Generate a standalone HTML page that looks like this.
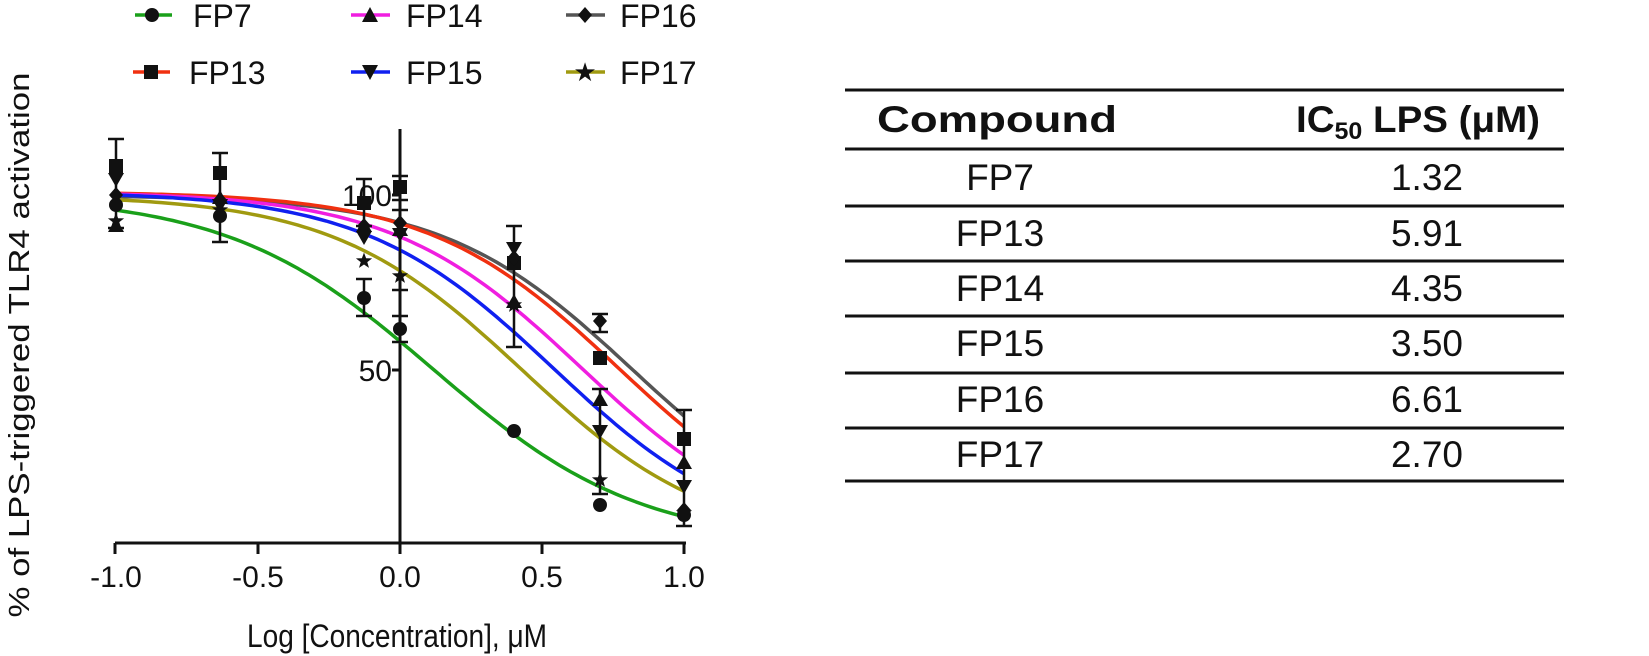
<!DOCTYPE html>
<html><head><meta charset="utf-8"><style>
body{margin:0;background:#fff;}
svg{display:block;font-family:"Liberation Sans",sans-serif;}
</style></head><body>
<svg id="s" width="1649" height="656" viewBox="0 0 1649 656" xmlns="http://www.w3.org/2000/svg">
<!-- legend -->
<g font-size="32" fill="#111">
<line x1="135" y1="15" x2="172" y2="15" stroke="#1aa01a" stroke-width="3.5"/><circle cx="152" cy="15" r="7"/><text x="193" y="27">FP7</text>
<line x1="351" y1="15" x2="390" y2="15" stroke="#f01ee0" stroke-width="3.5"/><polygon points="370,7 378,22 362,22"/><text x="406" y="27">FP14</text>
<line x1="566" y1="15" x2="605" y2="15" stroke="#555" stroke-width="3.5"/><polygon points="585,7 592,15 585,23 578,15"/><text x="620" y="27">FP16</text>
<line x1="133" y1="72" x2="170" y2="72" stroke="#f03010" stroke-width="3.5"/><rect x="144" y="65" width="14" height="14"/><text x="189" y="84">FP13</text>
<line x1="351" y1="72" x2="390" y2="72" stroke="#1020f0" stroke-width="3.5"/><polygon points="362,65 378,65 370,80"/><text x="406" y="84">FP15</text>
<line x1="566" y1="72" x2="605" y2="72" stroke="#a09a10" stroke-width="3.5"/><text x="585" y="81" text-anchor="middle" font-size="26">★</text><text x="620" y="84">FP17</text>
</g>
<!-- axes -->
<g stroke="#111" stroke-width="3" fill="none">
<line x1="400" y1="129" x2="400" y2="543"/>
<line x1="115" y1="543" x2="686" y2="543"/>
<line x1="115" y1="543" x2="115" y2="554"/><line x1="258" y1="543" x2="258" y2="554"/><line x1="400" y1="543" x2="400" y2="554"/><line x1="542" y1="543" x2="542" y2="554"/><line x1="684" y1="543" x2="684" y2="554"/>
<line x1="392" y1="195" x2="400" y2="195"/><line x1="392" y1="370" x2="400" y2="370"/>
</g>
<g font-size="30" fill="#111" text-anchor="middle">
<text x="116" y="587">-1.0</text><text x="258" y="587">-0.5</text><text x="400" y="587">0.0</text><text x="542" y="587">0.5</text><text x="684" y="587">1.0</text>
<text x="392" y="206" text-anchor="end">100</text><text x="392" y="381" text-anchor="end">50</text>
<text x="397" y="647" font-size="32" textLength="300" lengthAdjust="spacingAndGlyphs">Log [Concentration], μM</text>
<text transform="translate(29,345) rotate(-90)" font-size="29" textLength="545" lengthAdjust="spacingAndGlyphs">% of LPS-triggered TLR4 activation</text>
</g>
<g id="curves" fill="none" stroke-width="3.5"></g>
<g id="bars" stroke="#111" stroke-width="2.5" fill="none"></g>
<g id="marks" fill="#111"></g>
<!-- table -->
<g stroke="#111" stroke-width="3">
<line x1="845" y1="90" x2="1564" y2="90"/><line x1="845" y1="149" x2="1564" y2="149"/><line x1="845" y1="206" x2="1564" y2="206"/><line x1="845" y1="261" x2="1564" y2="261"/><line x1="845" y1="316" x2="1564" y2="316"/><line x1="845" y1="373" x2="1564" y2="373"/><line x1="845" y1="428" x2="1564" y2="428"/><line x1="845" y1="481" x2="1564" y2="481"/>
</g>
<g font-size="37" fill="#111" text-anchor="middle">
<text x="997" y="132" font-weight="bold" textLength="240" lengthAdjust="spacingAndGlyphs">Compound</text>
<text x="1418" y="132" font-weight="bold" textLength="244" lengthAdjust="spacingAndGlyphs">IC<tspan font-size="24" dy="7">50</tspan><tspan dy="-7"> LPS (μM)</tspan></text>
<text x="1000" y="190">FP7</text><text x="1427" y="190">1.32</text>
<text x="1000" y="246">FP13</text><text x="1427" y="246">5.91</text>
<text x="1000" y="301">FP14</text><text x="1427" y="301">4.35</text>
<text x="1000" y="356">FP15</text><text x="1427" y="356">3.50</text>
<text x="1000" y="412">FP16</text><text x="1427" y="412">6.61</text>
<text x="1000" y="467">FP17</text><text x="1427" y="467">2.70</text>
</g>
</svg>
<script>
var NS="http://www.w3.org/2000/svg";
function px(x){return 400+284*x;}
function py(v){return 545-3.5*v;}
var curves=[["#555",0.82,1.3,100,0],["#f03010",0.77,1.3,101,0],["#f01ee0",0.64,1.3,101,0],["#1020f0",0.54,1.3,101,0],["#a09a10",0.43,1.3,100,0],["#1aa01a",0.12,1.2,100,0]];
var g=document.getElementById("curves");
curves.forEach(function(c){var d="";for(var i=0;i<=100;i++){var x=-1+i*0.02;var v=c[4]+(c[3]-c[4])/(1+Math.pow(10,(x-c[1])*c[2]));d+=(i?"L":"M")+px(x).toFixed(1)+","+py(v).toFixed(1);}
var p=document.createElementNS(NS,"path");p.setAttribute("d",d);p.setAttribute("stroke",c[0]);g.appendChild(p);});
var bars=[[116,139,228],[220,153,242],[364,179,226],[364,279,316],[400,176,200],[400,316,342],[400,210,290],[514,226,347],[600,314,332],[600,389,494],[684,410,526]];
var bg=document.getElementById("bars");
bars.forEach(function(b){var d="M"+b[0]+","+b[1]+"V"+b[2]+"M"+(b[0]-8)+","+b[1]+"h16M"+(b[0]-8)+","+b[2]+"h16";var p=document.createElementNS(NS,"path");p.setAttribute("d",d);bg.appendChild(p);});
var mg=document.getElementById("marks");
function mk(t,x,y){var e;
if(t=="c"){e=document.createElementNS(NS,"circle");e.setAttribute("cx",x);e.setAttribute("cy",y);e.setAttribute("r",7);}
else if(t=="s"){e=document.createElementNS(NS,"rect");e.setAttribute("x",x-7);e.setAttribute("y",y-7);e.setAttribute("width",14);e.setAttribute("height",14);}
else{e=document.createElementNS(NS,"polygon");var pts;
if(t=="t")pts=[[x,y-8],[x+8,y+6],[x-8,y+6]];
else if(t=="v")pts=[[x-8,y-6],[x+8,y-6],[x,y+8]];
else if(t=="d")pts=[[x,y-8],[x+7,y],[x,y+8],[x-7,y]];
else {pts=[];for(var i=0;i<10;i++){var r=i%2?3.5:8.5,a=-Math.PI/2+i*Math.PI/5;pts.push([x+r*Math.cos(a),y+r*Math.sin(a)]);}}
e.setAttribute("points",pts.map(function(p){return p[0].toFixed(1)+","+p[1].toFixed(1)}).join(" "));}
mg.appendChild(e);}
var pts=[["s",116,166],["v",116,179],["d",116,195],["c",116,205],["t",116,226],["k",116,221],
["s",220,173],["t",220,198],["d",220,200],["v",220,205],["k",220,210],["c",220,216],
["s",364,203],["t",364,226],["d",364,226],["v",364,237],["k",364,261],["c",364,298],
["s",400,187],["d",400,223],["t",400,230],["v",400,234],["k",400,276],["c",400,329],
["v",514,248],["s",514,263],["d",514,258],["t",514,302],["k",514,305],["c",514,431],
["d",600,321],["s",600,358],["t",600,400],["v",600,431],["k",600,480],["c",600,505],
["s",684,439],["t",684,463],["v",684,486],["k",684,513],["d",684,510],["c",684,515]];
pts.forEach(function(p){mk(p[0],p[1],p[2]);});
</script>
</body></html>
